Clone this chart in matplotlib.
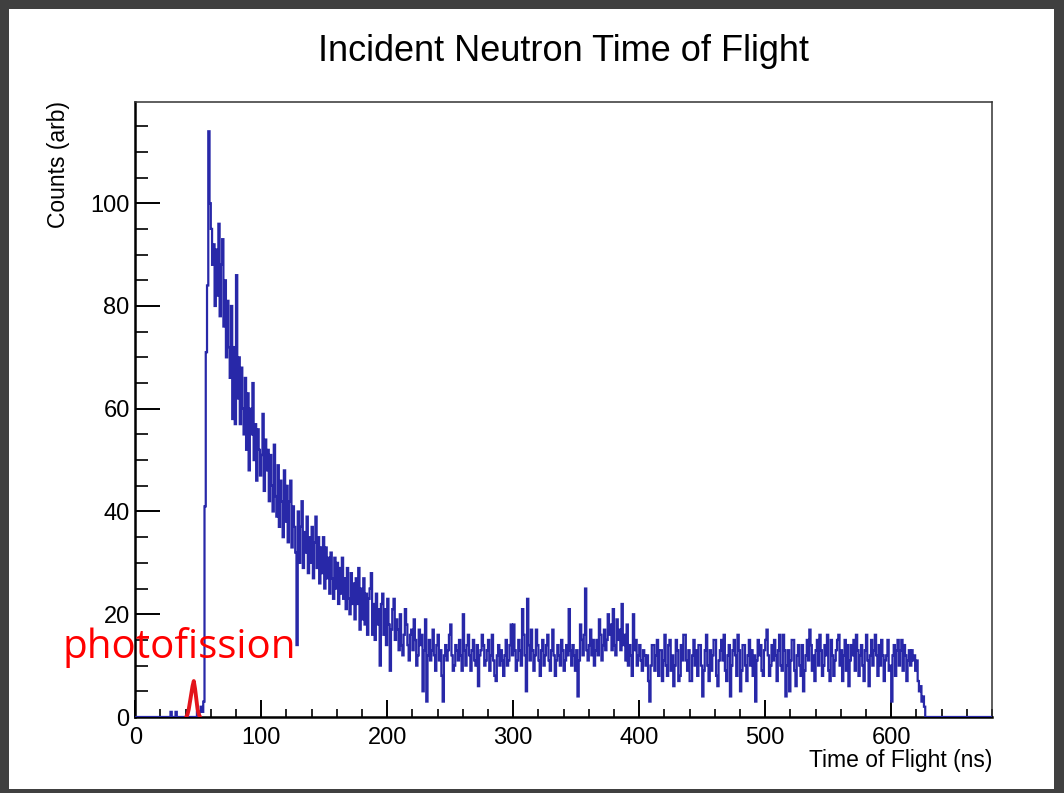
import numpy as np
import matplotlib
matplotlib.use("Agg")
import matplotlib.pyplot as plt
from matplotlib.patches import Rectangle
from matplotlib.ticker import MultipleLocator

# ---------------- data ----------------
title = "Incident Neutron Time of Flight"
xlabel = "Time of Flight (ns)"
ylabel = "Counts (arb)"
annotation = "photofission"

hist_range = (0, 680)          # ns, 1 ns bins
first_bin = 26                 # first bin listed in `counts`
counts = [
    0, 0, 1, 0, 0, 0, 1, 0, 0, 0,
    0, 0, 0, 0, 0, 0, 0, 0, 0, 0,
    0, 0, 0, 1, 0, 1, 2, 1, 3, 41,
    71, 84, 114, 100, 95, 88, 92, 80, 91, 82,
    96, 78, 88, 93, 76, 85, 70, 81, 72, 66,
    80, 58, 72, 57, 86, 62, 70, 57, 68, 60,
    55, 66, 52, 63, 48, 60, 55, 65, 50, 57,
    46, 56, 52, 47, 51, 59, 44, 54, 48, 52,
    42, 51, 45, 40, 53, 43, 39, 49, 37, 46,
    42, 35, 48, 38, 45, 34, 42, 46, 33, 41,
    37, 32, 14, 40, 30, 37, 42, 29, 36, 32,
    39, 28, 35, 30, 37, 27, 34, 39, 29, 35,
    26, 33, 28, 35, 25, 33, 27, 31, 24, 32,
    27, 23, 31, 25, 30, 22, 29, 24, 31, 23,
    27, 21, 29, 23, 20, 28, 22, 26, 19, 27,
    22, 29, 17, 25, 19, 27, 18, 24, 16, 23,
    25, 28, 16, 22, 15, 24, 18, 21, 10, 22,
    24, 16, 21, 14, 23, 18, 9, 17, 21, 23,
    15, 19, 17, 13, 20, 14, 12, 16, 21, 18,
    14, 11, 16, 17, 13, 19, 15, 10, 12, 17,
    14, 16, 5, 13, 19, 3, 12, 15, 11, 13,
    17, 12, 9, 14, 16, 11, 13, 8, 3, 12,
    14, 11, 13, 16, 18, 12, 9, 10, 14, 13,
    11, 15, 12, 9, 20, 13, 10, 14, 16, 12,
    9, 13, 15, 11, 10, 14, 6, 12, 13, 16,
    14, 10, 11, 13, 15, 9, 12, 16, 11, 8,
    7, 12, 14, 10, 13, 11, 8, 12, 15, 10,
    11, 14, 18, 12, 18, 13, 9, 11, 15, 13,
    10, 21, 16, 12, 5, 23, 14, 11, 17, 13,
    9, 12, 17, 14, 11, 8, 13, 15, 10, 12,
    14, 16, 11, 9, 13, 17, 12, 8, 11, 14,
    12, 10, 15, 13, 9, 11, 14, 12, 21, 13,
    10, 14, 12, 9, 13, 4, 11, 18, 15, 12,
    16, 25, 13, 11, 14, 17, 12, 15, 10, 13,
    15, 12, 19, 16, 11, 14, 17, 13, 15, 20,
    16, 18, 13, 21, 14, 12, 19, 15, 17, 13,
    22, 14, 16, 11, 18, 10, 14, 12, 8, 20,
    13, 15, 10, 12, 14, 11, 9, 13, 12, 10,
    12, 7, 3, 10, 14, 14, 9, 12, 15, 8,
    13, 13, 7, 11, 16, 10, 8, 14, 15, 9,
    12, 6, 10, 15, 13, 7, 8, 14, 11, 16,
    16, 11, 9, 13, 7, 7, 12, 15, 10, 13,
    8, 14, 14, 10, 4, 9, 13, 16, 10, 7,
    13, 9, 12, 15, 15, 8, 6, 11, 13, 15,
    11, 16, 9, 7, 12, 14, 4, 10, 13, 15,
    12, 8, 16, 13, 5, 9, 14, 14, 10, 7,
    12, 15, 10, 13, 8, 12, 3, 11, 15, 12,
    14, 9, 8, 13, 15, 17, 12, 8, 10, 14,
    11, 15, 12, 7, 13, 16, 10, 9, 16, 13,
    4, 10, 13, 5, 11, 15, 15, 9, 6, 12,
    14, 10, 8, 14, 5, 9, 12, 15, 11, 17,
    14, 9, 12, 7, 13, 15, 10, 16, 13, 8,
    10, 14, 12, 16, 9, 7, 15, 12, 8, 11,
    13, 15, 16, 10, 13, 7, 12, 15, 9, 14,
    6, 11, 14, 12, 15, 9, 16, 13, 8, 12,
    14, 10, 7, 13, 16, 11, 6, 12, 15, 10,
    13, 16, 12, 8, 14, 10, 15, 12, 7, 11,
    12, 15, 9, 10, 3, 12, 14, 8, 13, 15,
    10, 13, 15, 9, 14, 12, 7, 11, 13, 10,
    13, 11, 12, 9, 11, 7, 5, 6, 3, 4,
    2, 0, 0, 0,
]

# photofission peak (ns, counts)
pf_time = [40.5, 41.5, 42.5, 43.5, 44.5, 45.5, 46.5, 47.5, 48.5, 49.5, 50.5, 51.5]
pf_counts = [0, 0.5, 1.5, 3, 4.5, 6, 7, 5.5, 3.5, 1.5, 0.5, 0]

x_major = [0, 100, 200, 300, 400, 500, 600]
y_major = [0, 20, 40, 60, 80, 100]

# ---------------- figure ----------------
W, H = 1064, 793
fig = plt.figure(figsize=(W / 100, H / 100), dpi=100)
fig.patch.set_facecolor("white")

def fx(px):
    return px / W

def fy(py):
    return 1 - py / H

# dark slide border
border = "#404040"
for (x0, y0, w, h) in [(0, 0, W, 9), (0, 0, 9, H), (W - 10, 0, 10, H), (0, H - 4, W, 4)]:
    fig.patches.append(Rectangle((fx(x0), fy(y0 + h)), w / W, h / H,
                                 transform=fig.transFigure, facecolor=border,
                                 edgecolor="none", zorder=0))

ax_l, ax_r, ax_t, ax_b = 135.2, 992, 102, 717
ax = fig.add_axes([fx(ax_l), fy(ax_b), (ax_r - ax_l) / W, (ax_b - ax_t) / H])

nbins = hist_range[1] - hist_range[0]
edges = np.linspace(hist_range[0], hist_range[1], nbins + 1)
values = np.zeros(nbins)
values[first_bin:first_bin + len(counts)] = counts

blue = "#2828a8"
ax.stairs(values, edges, color=blue, linewidth=1.6, zorder=3)
ax.plot(pf_time, pf_counts, color="#e3141c", linewidth=2.8, zorder=4,
        solid_capstyle="round")

ax.set_xlim(hist_range)
ax.set_ylim(0, 119.7)

tick_font = dict(family=["Liberation Sans", "DejaVu Sans"], size=17)
ax.set_xticks(x_major)
ax.set_xticklabels([str(v) for v in x_major], **tick_font)
ax.set_yticks(y_major)
ax.set_yticklabels([str(v) for v in y_major], **tick_font)
ax.xaxis.set_minor_locator(MultipleLocator(20))
ax.yaxis.set_minor_locator(MultipleLocator(5))

ax.tick_params(axis="x", which="major", direction="in", length=12, width=1.4,
               pad=7, top=False, colors="black")
ax.tick_params(axis="x", which="minor", direction="in", length=6, width=1.2, top=False)
ax.tick_params(axis="y", which="major", direction="in", length=18, width=1.4,
               pad=4, right=False)
ax.tick_params(axis="y", which="minor", direction="in", length=9, width=1.2, right=False)

for side in ["left", "bottom"]:
    ax.spines[side].set_linewidth(1.8)
for side in ["top", "right"]:
    ax.spines[side].set_linewidth(1.1)
    ax.spines[side].set_color("#333333")

label_font = ["Liberation Sans", "DejaVu Sans"]
fig.text(fx(564), fy(61), title, ha="center", va="baseline",
         family=label_font, size=26)
fig.text(fx(992), fy(767), xlabel, ha="right", va="baseline",
         family=label_font, size=16.5)
fig.text(fx(58), fy(101), ylabel, ha="center", va="top", rotation=90,
         family=label_font, size=16.5)
fig.text(fx(62), fy(658), annotation, ha="left", va="baseline",
         family=["Open Sans", "DejaVu Sans"], size=29, color="#ff0000")

fig.savefig("out.png", dpi=100, facecolor=fig.get_facecolor())
